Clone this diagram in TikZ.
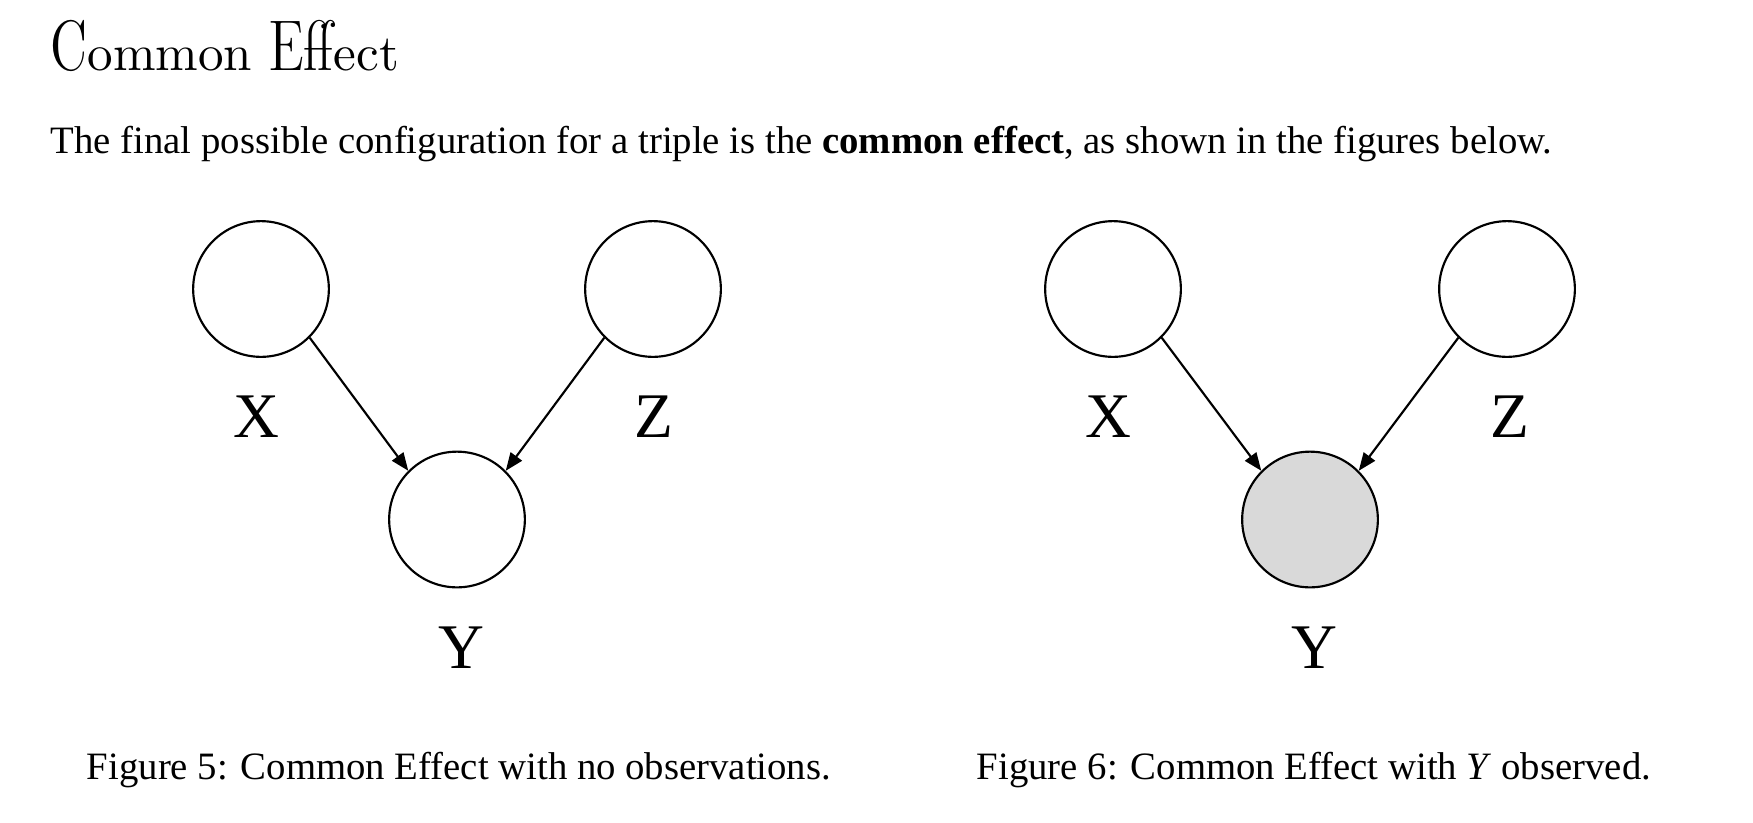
\documentclass[tikz,border=0pt]{standalone}
\usepackage{fontspec}
\setmainfont{Liberation Serif}
\newfontfamily\dunh{lmromandunh10-regular.otf}
\usetikzlibrary{arrows.meta}
\definecolor{obsgray}{RGB}{217,217,217}
\begin{document}
\begin{tikzpicture}[x=0.28pt,y=-0.28pt,
  var/.style={circle,draw,line width=0.6pt,minimum size=38pt,inner sep=0pt},
  obs/.style={var,fill=obsgray},
  lbl/.style={inner sep=0pt,anchor=base,font=\fontsize{17.8}{20}\selectfont},
  arr/.style={line width=0.6pt,-{Triangle[length=5pt,width=3.9pt]}},
  txt/.style={inner sep=0pt,anchor=base west},
  capt/.style={inner sep=0pt,anchor=base,font=\fontsize{10.85}{13}\selectfont}]
\useasboundingbox (0,0) rectangle (1753,822);
\node[txt,font=\dunh\fontsize{14.3}{16}\selectfont] (title) at (50,70) {Common Effect};
\node[txt,font=\fontsize{10.85}{13}\selectfont] (body) at (50,153) {The final possible configuration for a triple is the \textbf{common effect}, as shown in the figures below.};
% left figure
\node[var] (x1) at (261,289) {};
\node[var] (z1) at (653,289) {};
\node[var] (y1) at (457,519.5) {};
\node[lbl] (lx1) at (256,437) {X};
\node[lbl] (lz1) at (654,437) {Z};
\node[lbl] (ly1) at (461,668) {Y};
\draw[arr] (x1.-45) -- (y1.135);
\draw[arr] (z1.-135) -- (y1.45);
\node[capt] (cap1) at (459,779) {Figure 5: Common Effect with no observations.};
% right figure
\node[var] (x2) at (1113,289) {};
\node[var] (z2) at (1507,289) {};
\node[obs] (y2) at (1310,519.5) {};
\node[lbl] (lx2) at (1108,437) {X};
\node[lbl] (lz2) at (1510,437) {Z};
\node[lbl] (ly2) at (1314,668) {Y};
\draw[arr] (x2.-45) -- (y2.135);
\draw[arr] (z2.-135) -- (y2.45);
\node[capt] (cap2) at (1314,779) {Figure 6: Common Effect with \textit{Y} observed.};
\end{tikzpicture}
\end{document}
